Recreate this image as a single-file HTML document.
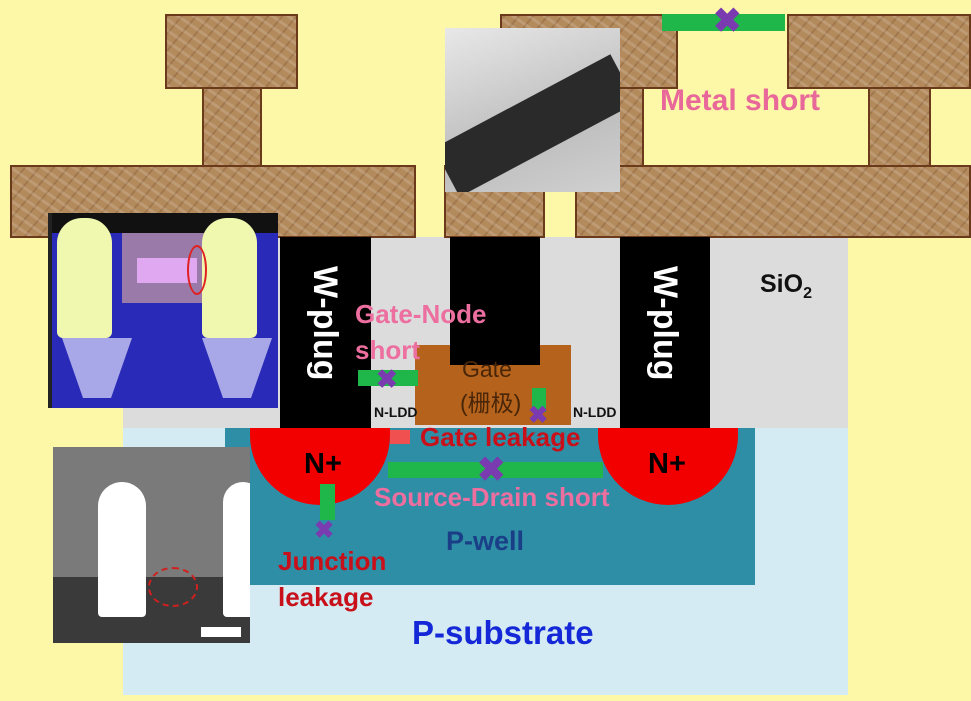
<!DOCTYPE html>
<html><head><meta charset="utf-8"><style>
body{margin:0;width:971px;height:701px;overflow:hidden;background:#fcf8a8;font-family:"Liberation Sans","Noto Sans CJK SC",sans-serif;position:relative}
div{position:absolute;box-sizing:border-box}
.m{background:#b38a5c;border:2px solid #6a3a1a;background-image:repeating-linear-gradient(35deg,rgba(255,255,255,.15) 0 3px,transparent 3px 9px),repeating-linear-gradient(-50deg,rgba(80,40,10,.18) 0 2px,transparent 2px 11px)}
.t{font-weight:bold;white-space:nowrap}
.g{background:#1fb64a}
.x{color:#7b3bb0;font-weight:bold;font-size:34px;line-height:30px}
</style></head><body>
<div style="left:123px;top:237px;width:725px;height:193px;background:#dcdcdc"></div>
<div style="left:123px;top:428px;width:725px;height:267px;background:#d5ebf3"></div>
<div style="left:225px;top:428px;width:530px;height:157px;background:#2d8ea6"></div>
<div class="m" style="left:165px;top:14px;width:133px;height:75px"></div>
<div class="m" style="left:202px;top:87px;width:60px;height:80px"></div>
<div class="m" style="left:10px;top:165px;width:406px;height:73px"></div>
<div class="m" style="left:444px;top:165px;width:101px;height:73px"></div>
<div class="m" style="left:500px;top:14px;width:178px;height:75px"></div>
<div class="m" style="left:618px;top:87px;width:26px;height:80px"></div>
<div class="m" style="left:787px;top:14px;width:184px;height:75px"></div>
<div class="m" style="left:868px;top:87px;width:63px;height:80px"></div>
<div class="m" style="left:575px;top:165px;width:396px;height:73px"></div>
<div class="g" style="left:662px;top:14px;width:123px;height:17px"></div>
<div class="x" style="left:713px;top:6px">✖</div>
<div class="t" style="left:660px;top:84px;font-size:30px;color:#e8689a">Metal short</div>
<div style="left:445px;top:28px;width:175px;height:164px;background:linear-gradient(160deg,#e8e8e8,#bdbdbd 60%,#d0d0d0);overflow:hidden">
<div style="left:-10px;top:70px;width:200px;height:55px;background:#2a2a2a;transform:rotate(-28deg)"></div>
</div>
<div style="left:280px;top:237px;width:91px;height:192px;background:#000"></div>
<div style="left:620px;top:237px;width:90px;height:192px;background:#000"></div>
<div style="left:415px;top:345px;width:156px;height:80px;background:#b4621c"></div>
<div style="left:450px;top:237px;width:90px;height:128px;background:#000"></div>
<div class="t" style="font-size:34px;color:#fff;transform:rotate(90deg);transform-origin:0 0;left:344px;top:266px">W-plug</div>
<div class="t" style="left:684px;top:266px;font-size:34px;color:#fff;transform:rotate(90deg);transform-origin:0 0">W-plug</div>
<div class="t" style="left:760px;top:270px;font-size:25px;color:#111">SiO<sub style="font-size:16px">2</sub></div>
<div class="t" style="left:462px;top:356px;font-size:23px;color:#4a2608;font-weight:normal">Gate</div>
<div class="t" style="left:460px;top:384px;font-size:23px;color:#4a2608;font-weight:normal">(栅极)</div>
<div style="left:250px;top:428px;width:140px;height:77px;background:#f20000;border-radius:0 0 70px 70px"></div>
<div style="left:598px;top:428px;width:140px;height:77px;background:#f20000;border-radius:0 0 70px 70px"></div>
<div style="left:390px;top:430px;width:20px;height:14px;background:#f05050"></div>
<div class="t" style="left:304px;top:448px;font-size:29px;color:#000">N+</div>
<div class="t" style="left:648px;top:448px;font-size:29px;color:#000">N+</div>
<div class="t" style="left:374px;top:404px;font-size:14px;color:#111">N-LDD</div>
<div class="t" style="left:573px;top:404px;font-size:14px;color:#111">N-LDD</div>
<div class="t" style="left:355px;top:296px;font-size:26px;color:#ec6fa0;line-height:36px">Gate-Node<br>short</div>
<div class="g" style="left:358px;top:370px;width:60px;height:16px"></div>
<div class="x" style="left:376px;top:364px;font-size:26px">✖</div>
<div class="g" style="left:532px;top:388px;width:14px;height:24px"></div>
<div class="x" style="left:528px;top:405px;font-size:24px;line-height:22px">✖</div>
<div class="t" style="left:420px;top:422px;font-size:26px;color:#c8101a">Gate leakage</div>
<div class="g" style="left:388px;top:462px;width:215px;height:16px"></div>
<div class="x" style="left:477px;top:455px">✖</div>
<div class="t" style="left:374px;top:482px;font-size:26px;color:#ec6fa0">Source-Drain short</div>
<div class="g" style="left:320px;top:484px;width:15px;height:36px"></div>
<div class="x" style="left:314px;top:520px;font-size:24px;line-height:22px">✖</div>
<div class="t" style="left:446px;top:526px;font-size:27px;color:#1a3f86">P-well</div>
<div class="t" style="left:278px;top:543px;font-size:26px;color:#c8101a;line-height:36px">Junction<br>leakage</div>
<div class="t" style="left:412px;top:614px;font-size:33px;color:#1428d8">P-substrate</div>
<div style="left:48px;top:213px;width:4px;height:195px;background:#222"></div>
<div style="left:52px;top:213px;width:226px;height:195px;background:#2a2ab8;overflow:hidden">
<div style="left:0;top:0;width:226px;height:20px;background:#111"></div>
<div style="left:70px;top:20px;width:110px;height:70px;background:#9a7aa8"></div>
<div style="left:85px;top:45px;width:60px;height:25px;background:#e0a8f0"></div>
<div style="left:5px;top:5px;width:55px;height:120px;background:#f0f8b0;border-radius:25px 25px 6px 6px"></div>
<div style="left:150px;top:5px;width:55px;height:120px;background:#f0f8b0;border-radius:25px 25px 6px 6px"></div>
<div style="left:10px;top:125px;width:70px;height:60px;background:#a8a8e8;clip-path:polygon(0 0,100% 0,70% 100%,30% 100%)"></div>
<div style="left:150px;top:125px;width:70px;height:60px;background:#a8a8e8;clip-path:polygon(0 0,100% 0,70% 100%,30% 100%)"></div>
<div style="left:135px;top:32px;width:20px;height:50px;border:2px solid #e02020;border-radius:50%"></div>
</div>
<div style="left:53px;top:447px;width:197px;height:196px;background:#7a7a7a;overflow:hidden">
<div style="left:0;top:130px;width:197px;height:66px;background:#3a3a3a"></div>
<div style="left:45px;top:35px;width:48px;height:135px;background:#fff;border-radius:24px 24px 4px 4px"></div>
<div style="left:170px;top:35px;width:40px;height:135px;background:#fff;border-radius:20px 20px 4px 4px"></div>
<div style="left:95px;top:120px;width:50px;height:40px;border:2px dashed #d02020;border-radius:50%"></div>
<div style="left:148px;top:180px;width:40px;height:10px;background:#fff"></div>
</div>
</body></html>
